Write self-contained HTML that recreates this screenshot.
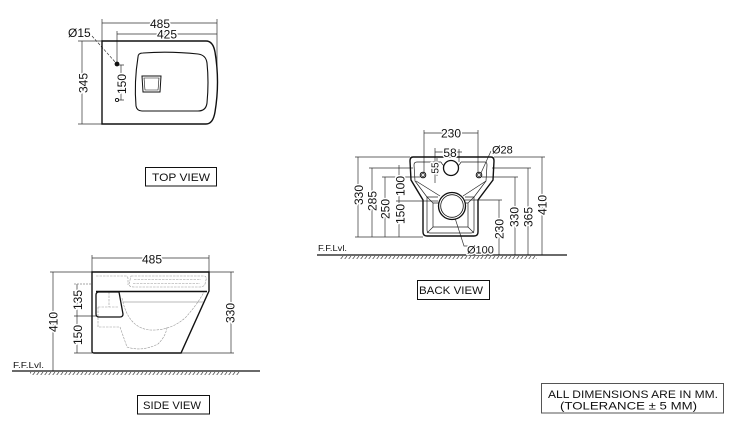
<!DOCTYPE html>
<html><head><meta charset="utf-8"><style>
html,body{margin:0;padding:0;background:#fff;}
svg{display:block;}
text{font-family:"Liberation Sans",Arial,sans-serif;fill:#111;}
.d{font-size:12px;paint-order:stroke;stroke:#fff;stroke-width:3px;stroke-linejoin:round;}
.s{font-size:11px;paint-order:stroke;stroke:#fff;stroke-width:3px;stroke-linejoin:round;}
.l{font-size:11px;}
.f{font-size:8.5px;}
</style></head><body>
<svg width="732" height="440" viewBox="0 0 732 440" xmlns="http://www.w3.org/2000/svg">
<defs>
<pattern id="h" width="4" height="4" patternUnits="userSpaceOnUse"><path d="M0,4 L3,0" stroke="#444" stroke-width="0.7"/></pattern>
</defs>

<!-- ================= TOP VIEW ================= -->
<g fill="none" stroke="#333" stroke-width="0.7">
  <path d="M102,23 H217 M102,19 V41 M217,19 V72"/>
  <path d="M117,34 H217 M117,31 V63"/>
  <path d="M82,41 V124 M78,41 H102 M78,124 H102"/>
  <path d="M121,65 V100 M118,65 H124 M118,100 H124"/>
  <path d="M92,36 L116,63" stroke-dasharray="3,1.5"/>
</g>
<g fill="none" stroke="#111" stroke-width="1.4">
  <path d="M102,41 L206,41 Q213,41 215,52 Q220,82 215,112 Q213,124 206,124 L102,124 Z"/>
  <path d="M138,57 Q138,53 143,53 Q170,51 198,54 Q206,55 207,63 Q209,82 207,103 Q206,111 198,111 L142,111 Q137,111 136,106 Q134,82 138,57 Z" stroke-width="1.1"/>
  <path d="M142,76 L161,76 L160,92 L143,92 Z" stroke-width="1"/>
  <path d="M144,78 L159,78 L158,90 L145,90 Z" stroke-width="0.6"/>
</g>
<circle cx="117" cy="64" r="2.4" fill="#111"/>
<circle cx="117" cy="100" r="1.6" fill="none" stroke="#111" stroke-width="0.9"/>
<text class="d" x="160" y="28" text-anchor="middle">485</text>
<text class="d" x="167" y="38.5" text-anchor="middle">425</text>
<text class="d" x="68" y="37">Ø15</text>
<text class="d" transform="translate(87.3,83) rotate(-90)" text-anchor="middle">345</text>
<text class="d" transform="translate(126,84) rotate(-90)" text-anchor="middle">150</text>

<rect x="145.5" y="167.5" width="71" height="18.5" fill="none" stroke="#111" stroke-width="1"/>
<text class="l" x="181" y="181" text-anchor="middle" textLength="58" lengthAdjust="spacingAndGlyphs">TOP VIEW</text>

<!-- ================= SIDE VIEW ================= -->
<g fill="none" stroke="#333" stroke-width="0.7">
  <path d="M92,258 H209 M92,255 V272 M209,255 V272"/>
  <path d="M53,272 V371 M50,272 H92"/>
  <path d="M77,284 V353 M74,316 H96 M74,353 H92"/>
  <path d="M231,272 V353 M209,272 H234 M181,353 H234"/>
  <path d="M74,284 H92" stroke="#888" stroke-dasharray="2,1"/>
</g>
<g fill="none" stroke="#999" stroke-width="0.6" stroke-dasharray="2.5,1">
  <path d="M96,276 H126 Q128,276 128,279 L128,285"/>
  <path d="M131,276 H204 Q207,276 206,280 L205,284 Q204,287 200,287 H134 Q129,287 129,284 Z"/>
  <path d="M134,279.5 H201 M133,283.5 H200"/>
  <path d="M122,298 Q128,328 150,330 Q170,331 185,318 Q197,305 204,292"/>
  <path d="M98,307 V327 H120 L127,347 Q142,352 158,344 Q166,336 167,327"/>
  <path d="M98,307 H119 M109,292 V307"/>
</g>
<g fill="none" stroke="#111" stroke-width="1.4">
  <path d="M92,272 H209 V291 L181,353 H94 Q92,353 92,351 Z"/>
  <path d="M96,291.5 H207"/>
  <path d="M99,292 L119,292 L123,314 Q123,317 120,317 L99,317 Q96,317 96,314 L96,295 Q96,292 99,292 Z" stroke-width="1.3"/>
</g>
<path d="M123,302 H203" stroke="#777" stroke-width="0.6" fill="none"/>
<path d="M12,371 H260" stroke="#111" stroke-width="1.2"/>
<rect x="30" y="372" width="210" height="3" fill="url(#h)"/>
<text class="f" x="13" y="368" textLength="31" lengthAdjust="spacingAndGlyphs">F.F.Lvl.</text>
<text class="d" x="152" y="263.3" text-anchor="middle">485</text>
<text class="d" transform="translate(57.3,322) rotate(-90)" text-anchor="middle">410</text>
<text class="d" transform="translate(82,300) rotate(-90)" text-anchor="middle">135</text>
<text class="d" transform="translate(82,335) rotate(-90)" text-anchor="middle">150</text>
<text class="d" transform="translate(234.3,313) rotate(-90)" text-anchor="middle">330</text>

<rect x="137.5" y="395.5" width="72" height="18.5" fill="none" stroke="#111" stroke-width="1"/>
<text class="l" x="172" y="409" text-anchor="middle" textLength="58" lengthAdjust="spacingAndGlyphs">SIDE VIEW</text>

<!-- ================= BACK VIEW ================= -->
<g fill="none" stroke="#333" stroke-width="0.7">
  <path d="M424,133 H478 M424,130 V173 M478,130 V173"/>
  <path d="M435,152 H462 M435,148 V183 M459,149 V162"/>
  <path d="M437,158 V176" />
  <path d="M491,151 L481,173"/>
  <!-- left dims -->
  <path d="M358,157 V237 M372,168 V237 M385,177 V237 M399,165 V237"/>
  <path d="M355,157 H410 M369,168 H413 M382,177 H420 M396,201 H438 M355,237 H423"/>
  <!-- right dims -->
  <path d="M542,157 V255 M528,168 V255 M515,177 V255 M499,200 V255"/>
  <path d="M494,157 H545 M492,168 H531 M482,177 H518 M465,200 H502"/>
  <path d="M455,218 L464,246 H468"/>
</g>
<g fill="none" stroke="#111" stroke-width="1.4">
  <path d="M413,157 L491,157 Q494,157 494,161 L493,180 L478,200 L478,232 Q478,236 474,236 L427,236 Q423,236 423,232 L423,200 L411,180 L410,161 Q410,157 413,157 Z"/>
</g>
<g fill="none" stroke="#222" stroke-width="0.7">
  <path d="M441,162 L417,162 Q414,162 414,165 L415,181 L427,197 L427,230 Q427,233 430,233 L471,233 Q474,233 474,230 L474,197 L486,181 L487,165 Q487,162 485,162 L461,162"/>
  <path d="M441,162 A11,11 0 0 0 461,162"/>
  <path d="M427,197 H438 M465,197 H474"/>
  <path d="M433,203 H468 V227 H433 Z"/>
  <path d="M427,197 L433,203 M474,197 L468,203 M427,233 L433,227 M474,233 L468,227"/>
  <path d="M416,181 L440,196 M486,181 L463,196"/>
</g>
<circle cx="451" cy="168" r="7.5" fill="#fff" stroke="#111" stroke-width="1.3"/>
<circle cx="423" cy="175" r="2.8" fill="none" stroke="#111" stroke-width="1"/>
<circle cx="423" cy="175" r="1.4" fill="none" stroke="#111" stroke-width="0.6"/>
<circle cx="479" cy="175" r="2.8" fill="none" stroke="#111" stroke-width="1"/>
<circle cx="479" cy="175" r="1.4" fill="none" stroke="#111" stroke-width="0.6"/>
<circle cx="452" cy="206" r="13.5" fill="#fff" stroke="#111" stroke-width="1.3"/>
<circle cx="452" cy="206" r="11.3" fill="none" stroke="#111" stroke-width="0.8"/>
<path d="M317,255 H567" stroke="#111" stroke-width="1.2"/>
<rect x="340" y="256" width="197" height="3" fill="url(#h)"/>
<text class="f" x="318" y="251" textLength="29" lengthAdjust="spacingAndGlyphs">F.F.Lvl.</text>

<text class="d" x="451" y="137.5" text-anchor="middle">230</text>
<text class="s" x="492" y="153.5">Ø28</text>
<text class="d" x="450" y="157" text-anchor="middle">58</text>
<text class="d" style="font-size:10px" transform="translate(438.5,168) rotate(-90)" text-anchor="middle">55</text>
<text class="d" transform="translate(363,195) rotate(-90)" text-anchor="middle">330</text>
<text class="d" transform="translate(376.3,201) rotate(-90)" text-anchor="middle">285</text>
<text class="d" transform="translate(389.3,209) rotate(-90)" text-anchor="middle">250</text>
<text class="d" transform="translate(404.3,186) rotate(-90)" text-anchor="middle">100</text>
<text class="d" transform="translate(404.3,214) rotate(-90)" text-anchor="middle">150</text>
<text class="d" transform="translate(503.3,229) rotate(-90)" text-anchor="middle">230</text>
<text class="d" transform="translate(518.3,217) rotate(-90)" text-anchor="middle">330</text>
<text class="d" transform="translate(532.3,217) rotate(-90)" text-anchor="middle">365</text>
<text class="d" transform="translate(546.3,205) rotate(-90)" text-anchor="middle">410</text>
<text class="s" x="467" y="253.5">Ø100</text>

<rect x="417.5" y="280.5" width="72" height="19" fill="none" stroke="#111" stroke-width="1"/>
<text class="l" x="451" y="294" text-anchor="middle" textLength="64" lengthAdjust="spacingAndGlyphs">BACK VIEW</text>

<!-- ================= NOTE ================= -->
<rect x="541.5" y="383.5" width="182" height="29.5" fill="none" stroke="#555" stroke-width="1"/>
<text class="l" x="633" y="398" text-anchor="middle" textLength="170" lengthAdjust="spacingAndGlyphs">ALL DIMENSIONS ARE IN MM.</text>
<text class="l" x="628.5" y="409.5" text-anchor="middle" textLength="137" lengthAdjust="spacingAndGlyphs">(TOLERANCE ± 5 MM)</text>
</svg>
</body></html>
